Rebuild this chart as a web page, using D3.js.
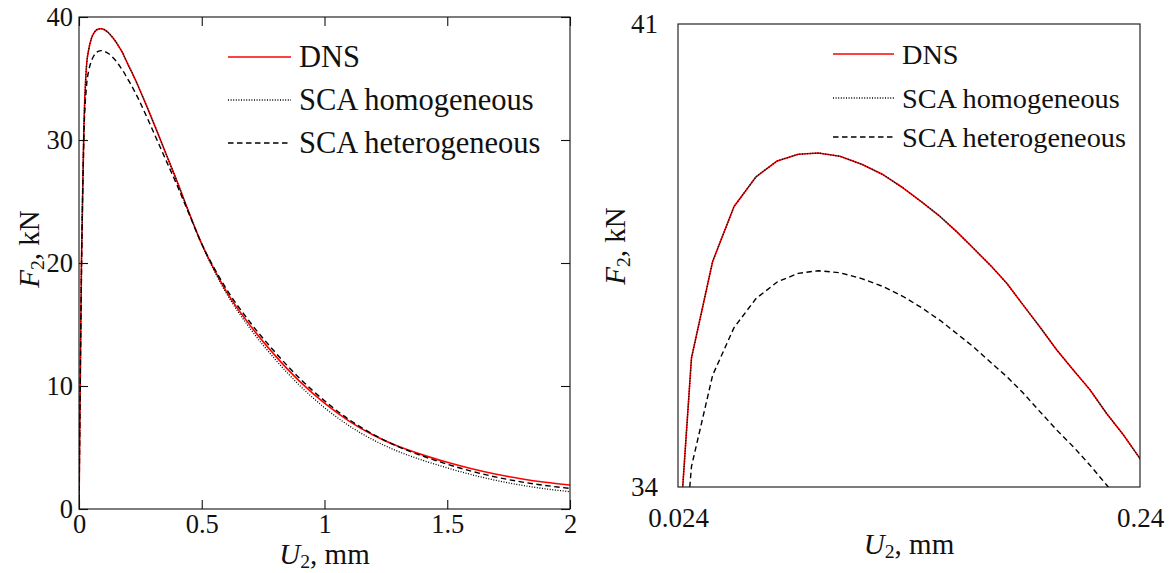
<!DOCTYPE html>
<html>
<head>
<meta charset="utf-8">
<script src="https://cdn.jsdelivr.net/npm/d3@7"></script>
<style>
  html, body { margin: 0; padding: 0; background: #fff; }
  svg { display: block; font-family: "Liberation Serif", "DejaVu Serif", serif; }
</style>
</head>
<body>
<svg id="chart" width="1175" height="573"></svg>
<script>
// ---------- data ----------
const u2 = [0, 0.01, 0.02, 0.0303, 0.0402, 0.0502, 0.0605, 0.0704, 0.0802, 0.0896, 0.0997,
  0.1099, 0.1200, 0.1293, 0.1379, 0.1465, 0.1543, 0.1621, 0.1707, 0.1777, 0.1854,
  0.1932, 0.2011, 0.2088, 0.2166, 0.2244, 0.2322, 0.2400,
  0.28, 0.32, 0.36, 0.40, 0.45, 0.5, 0.55, 0.6,
  0.7, 0.8, 0.9, 1.0, 1.1, 1.2, 1.3, 1.4, 1.5, 1.6, 1.7, 1.8, 1.9, 2.0];

const dns = [0, 20, 31.05, 35.95, 37.41, 38.24, 38.69, 38.93, 39.03, 39.05, 39.00,
  38.88, 38.72, 38.52, 38.31, 38.09, 37.86, 37.61, 37.33, 37.08, 36.75,
  36.42, 36.07, 35.77, 35.47, 35.11, 34.79, 34.43,
  32.55, 30.6, 28.6, 26.6, 24.0, 21.55, 19.5, 17.7,
  14.85, 12.45, 10.35, 8.6, 7.15, 6.0, 5.1, 4.4, 3.8, 3.27, 2.82, 2.46, 2.17, 1.95];

const scaHomogeneous = [0, 20, 31.05, 35.95, 37.41, 38.24, 38.69, 38.93, 39.03, 39.05, 39.00,
  38.88, 38.72, 38.52, 38.31, 38.09, 37.86, 37.61, 37.33, 37.08, 36.75,
  36.42, 36.07, 35.77, 35.47, 35.11, 34.79, 34.43,
  32.55, 30.6, 28.6, 26.6, 23.97, 21.5, 19.4, 17.55,
  14.6, 12.15, 10.02, 8.24, 6.77, 5.6, 4.68, 3.96, 3.34, 2.79, 2.32, 1.94, 1.64, 1.41];

const scaHeterogeneous = [0, 19, 30.3, 34.31, 35.69, 36.41, 36.85, 37.10, 37.23, 37.27, 37.24,
  37.15, 37.03, 36.88, 36.71, 36.52, 36.32, 36.12, 35.87, 35.67, 35.42,
  35.14, 34.86, 34.61, 34.33, 34.03, 33.73, 33.42,
  31.7, 29.9, 28.1, 26.3, 23.9, 21.55, 19.6, 17.9,
  15.1, 12.72, 10.6, 8.8, 7.27, 6.05, 5.07, 4.3, 3.64, 3.07, 2.59, 2.21, 1.91, 1.68];

const seriesNames = ["DNS", "SCA homogeneous", "SCA heterogeneous"];

const leftXTicks = [0, 0.5, 1, 1.5, 2];
const leftXTickLabels = ["0", "0.5", "1", "1.5", "2"];
const leftYTicks = [0, 10, 20, 30, 40];
const leftYTickLabels = ["0", "10", "20", "30", "40"];
const rightXTicks = [0.024, 0.24];
const rightXTickLabels = ["0.024", "0.24"];
const rightYTicks = [34, 41];
const rightYTickLabels = ["34", "41"];

// ---------- drawing ----------
const svg = d3.select("#chart");
const series = [
  { name: seriesNames[0], values: dns, color: "#ff0000", width: 1.6, dash: null },
  { name: seriesNames[1], values: scaHomogeneous, color: "#000", width: 1.3, dash: "1,1.6" },
  { name: seriesNames[2], values: scaHeterogeneous, color: "#000", width: 1.4, dash: "5.5,3.5" }
];

function panel(cfg) {
  const x = d3.scaleLinear().domain(cfg.xDomain).range([cfg.left, cfg.right]);
  const y = d3.scaleLinear().domain(cfg.yDomain).range([cfg.bottom, cfg.top]);
  const g = svg.append("g");
  const clipId = "clip" + cfg.id;
  svg.append("defs").append("clipPath").attr("id", clipId)
    .append("rect").attr("x", cfg.left).attr("y", cfg.top)
    .attr("width", cfg.right - cfg.left).attr("height", cfg.bottom - cfg.top);

  const line = d3.line().curve(cfg.curve).x((d) => x(d[0])).y((d) => y(d[1]));
  const lines = g.append("g").attr("clip-path", `url(#${clipId})`);
  series.forEach((s) => {
    const pts = u2.map((u, i) => [u, s.values[i]]);
    lines.append("path").datum(pts)
      .attr("d", line)
      .attr("fill", "none")
      .attr("stroke", s.color)
      .attr("stroke-width", s.width)
      .attr("stroke-dasharray", s.dash)
      .attr("stroke-linejoin", "round");
  });

  // frame
  g.append("rect")
    .attr("x", cfg.left).attr("y", cfg.top)
    .attr("width", cfg.right - cfg.left).attr("height", cfg.bottom - cfg.top)
    .attr("fill", "none").attr("stroke", "#111").attr("stroke-width", 1.1);

  const fmtX = (v) => cfg.xLabels[cfg.xTicks.indexOf(v)];
  const fmtY = (v) => cfg.yLabels[cfg.yTicks.indexOf(v)];

  const style = (sel, fs) => {
    sel.select(".domain").remove();
    sel.selectAll(".tick line").attr("stroke", "#111").attr("stroke-width", 1.1);
    sel.selectAll("text").attr("font-family", "Liberation Serif, serif").attr("font-size", fs).attr("fill", "#111");
  };

  g.append("g").attr("transform", `translate(0,${cfg.bottom})`)
    .call(d3.axisBottom(x).tickValues(cfg.xTicks).tickFormat(fmtX).tickSize(-cfg.tick).tickPadding(cfg.xPad))
    .call((s) => style(s, cfg.fs));
  g.append("g").attr("transform", `translate(0,${cfg.top})`)
    .call(d3.axisTop(x).tickValues(cfg.xTicks).tickFormat("").tickSize(-cfg.tick))
    .call((s) => style(s, cfg.fs));
  g.append("g").attr("transform", `translate(${cfg.left},0)`)
    .call(d3.axisLeft(y).tickValues(cfg.yTicks).tickFormat(fmtY).tickSize(-cfg.tick).tickPadding(cfg.yPad))
    .call((s) => style(s, cfg.fs));
  g.append("g").attr("transform", `translate(${cfg.right},0)`)
    .call(d3.axisRight(y).tickValues(cfg.yTicks).tickFormat("").tickSize(-cfg.tick))
    .call((s) => style(s, cfg.fs));

  // axis titles
  const xt = g.append("text")
    .attr("x", (cfg.left + cfg.right) / 2).attr("y", cfg.xTitleY)
    .attr("text-anchor", "middle").attr("font-size", cfg.titleFs).attr("fill", "#111");
  xt.append("tspan").attr("font-style", "italic").text("U");
  xt.append("tspan").attr("font-size", cfg.titleFs * 0.68).attr("dy", 4).text("2");
  xt.append("tspan").attr("dy", -4).text(", mm");

  const yt = g.append("text")
    .attr("transform", `translate(${cfg.yTitleX},${cfg.yTitleY}) rotate(-90)`)
    .attr("text-anchor", "middle").attr("font-size", cfg.titleFs).attr("fill", "#111");
  yt.append("tspan").attr("font-style", "italic").text("F");
  yt.append("tspan").attr("font-size", cfg.titleFs * 0.68).attr("dy", 5).text("2");
  yt.append("tspan").attr("dy", -5).text(", kN");

  // legend
  const lg = g.append("g");
  series.forEach((s, i) => {
    const yy = cfg.legY[i];
    lg.append("line")
      .attr("x1", cfg.legX1).attr("x2", cfg.legX2).attr("y1", yy).attr("y2", yy)
      .attr("stroke", s.color).attr("stroke-width", s.width)
      .attr("stroke-dasharray", s.dash);
    lg.append("text")
      .attr("x", cfg.legX2 + 8).attr("y", yy + 10)
      .attr("font-size", cfg.legFs).attr("fill", "#111")
      .text(s.name);
  });
}

panel({
  id: "L", xDomain: [0, 2], yDomain: [0, 40], curve: d3.curveMonotoneX,
  left: 79, right: 570, top: 17, bottom: 509,
  xTicks: leftXTicks, xLabels: leftXTickLabels,
  yTicks: leftYTicks, yLabels: leftYTickLabels,
  tick: 9, xPad: 5, yPad: 6, fs: 26.5, titleFs: 29, legFs: 30.5,
  xTitleY: 564, yTitleX: 39, yTitleY: 249,
  legX1: 228, legX2: 291, legY: [57, 100, 143]
});

panel({
  id: "R", xDomain: [0.024, 0.24], yDomain: [34, 41], curve: d3.curveLinear,
  left: 678, right: 1140, top: 24, bottom: 487,
  xTicks: rightXTicks, xLabels: rightXTickLabels,
  yTicks: rightYTicks, yLabels: rightYTickLabels,
  tick: 0, xPad: 21, yPad: 20, fs: 27, titleFs: 29, legFs: 28.3,
  xTitleY: 554, yTitleX: 625, yTitleY: 246,
  legX1: 833, legX2: 894, legY: [54, 98, 137]
});
</script>
</body>
</html>
